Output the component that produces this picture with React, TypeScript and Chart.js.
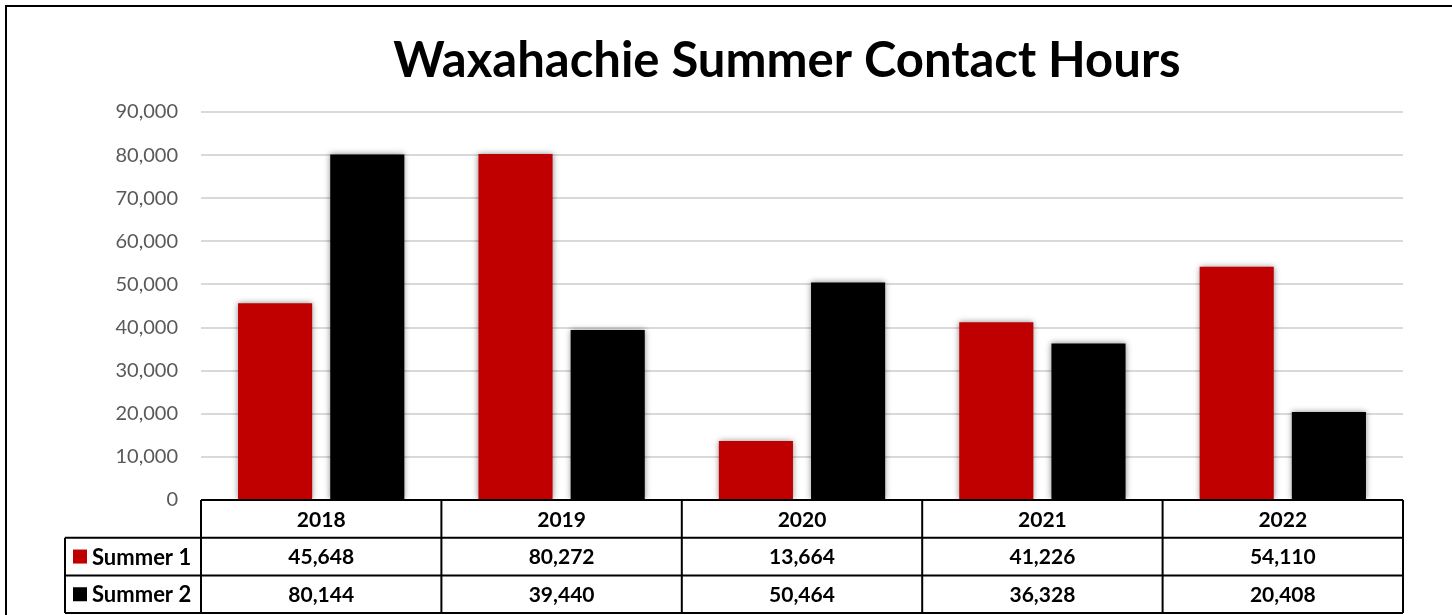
import React, { useEffect, useRef } from "react";
import { Chart, registerables } from "chart.js";

Chart.register(...registerables);

const categories = ["2018", "2019", "2020", "2021", "2022"];
const seriesNames = ["Summer 1", "Summer 2"];
const summer1 = [45648, 80272, 13664, 41226, 54110];
const summer2 = [80144, 39440, 50464, 36328, 20408];
const seriesColors = ["#c00000", "#000000"];
const yTicks = [0, 10000, 20000, 30000, 40000, 50000, 60000, 70000, 80000, 90000];
const titleText = "Waxahachie Summer Contact Hours";

const FONT = "Lato, 'Open Sans', sans-serif";
const fmt = (v: number) => v.toLocaleString("en-US");

const shadowPlugin = {
  id: "barShadow",
  beforeDatasetsDraw(chart: any) {
    const ctx = chart.ctx;
    ctx.save();
    ctx.shadowColor = "rgba(0,0,0,0.45)";
    ctx.shadowBlur = 6;
    ctx.shadowOffsetX = 0;
    ctx.shadowOffsetY = 0;
  },
  afterDatasetsDraw(chart: any) {
    chart.ctx.restore();
  },
};

const titlePlugin = {
  id: "customTitle",
  afterDraw(chart: any) {
    const ctx = chart.ctx;
    ctx.save();
    ctx.fillStyle = "#000";
    ctx.font = `bold 49px ${FONT}`;
    ctx.textAlign = "center";
    ctx.textBaseline = "alphabetic";
    ctx.fillText(titleText, 787, 77);
    ctx.restore();
  },
};

const tablePlugin = {
  id: "dataTable",
  afterDraw(chart: any) {
    const ctx = chart.ctx;
    const xs = chart.scales.x;
    const area = chart.chartArea;
    const n = categories.length;
    const colW = (area.right - area.left) / n;
    const top = area.bottom;
    const rowH = 37.7;
    const legendLeft = 65;
    ctx.save();
    ctx.strokeStyle = "#000";
    ctx.lineWidth = 2;
    ctx.strokeRect(6, 6, 1500, 700);

    ctx.beginPath();
    ctx.moveTo(area.left, top);
    ctx.lineTo(area.right, top);
    for (let r = 1; r <= 3; r++) {
      ctx.moveTo(legendLeft, top + rowH * r);
      ctx.lineTo(area.right, top + rowH * r);
    }
    for (let i = 0; i <= n; i++) {
      const x = area.left + colW * i;
      ctx.moveTo(x, top);
      ctx.lineTo(x, top + rowH * 3);
    }
    ctx.moveTo(legendLeft, top + rowH);
    ctx.lineTo(legendLeft, top + rowH * 3);
    ctx.stroke();

    ctx.fillStyle = "#000";
    ctx.font = `bold 21px ${FONT}`;
    ctx.textAlign = "center";
    ctx.textBaseline = "middle";
    categories.forEach((c, i) => {
      const cx = xs.getPixelForValue(i);
      ctx.fillText(c, cx, top + rowH * 0.5 + 1);
      ctx.fillText(fmt(summer1[i]), cx, top + rowH * 1.5 + 1);
      ctx.fillText(fmt(summer2[i]), cx, top + rowH * 2.5 + 1);
    });
    ctx.textAlign = "left";
    ctx.font = `bold 22px ${FONT}`;
    seriesNames.forEach((s, k) => {
      const cy = top + rowH * (1.5 + k);
      ctx.fillStyle = seriesColors[k];
      ctx.fillRect(73, cy - 7, 14, 14);
      ctx.fillStyle = "#000";
      ctx.fillText(s, 92, cy + 1);
    });
    ctx.restore();
  },
};

export default function App() {
  const ref = useRef<HTMLCanvasElement>(null);
  useEffect(() => {
    if (!ref.current) return;
    const chart = new Chart(ref.current, {
      type: "bar",
      data: {
        labels: categories,
        datasets: [
          { label: seriesNames[0], data: summer1, backgroundColor: seriesColors[0] },
          { label: seriesNames[1], data: summer2, backgroundColor: seriesColors[1] },
        ],
      },
      options: {
        animation: false,
        responsive: false,
        maintainAspectRatio: false,
        layout: { padding: { left: 0, right: 49, top: 112, bottom: 115 } },
        datasets: {
          bar: { categoryPercentage: 0.767, barPercentage: 0.804 },
        },
        plugins: {
          legend: { display: false },
          tooltip: { enabled: false },
          title: { display: false },
        },
        scales: {
          x: {
            display: false,
          },
          y: {
            min: 0,
            max: 90000,
            afterFit(scale: any) {
              scale.width = 201;
            },
            afterBuildTicks(scale: any) {
              scale.ticks = yTicks.map((v) => ({ value: v }));
            },
            border: { display: false },
            grid: { color: "#d9d9d9", lineWidth: 2, drawTicks: false },
            ticks: {
              color: "#595959",
              padding: 23,
              font: { family: FONT, size: 20 },
              callback: (v: any) => fmt(Number(v)),
            },
          },
        },
      },
      plugins: [shadowPlugin, tablePlugin, titlePlugin],
    });
    return () => chart.destroy();
  }, []);
  return (
    <div style={{ position: "fixed", left: 0, top: 0, width: 1452, height: 615, background: "#fff" }}>
      <canvas ref={ref} width={1452} height={615} />
    </div>
  );
}
